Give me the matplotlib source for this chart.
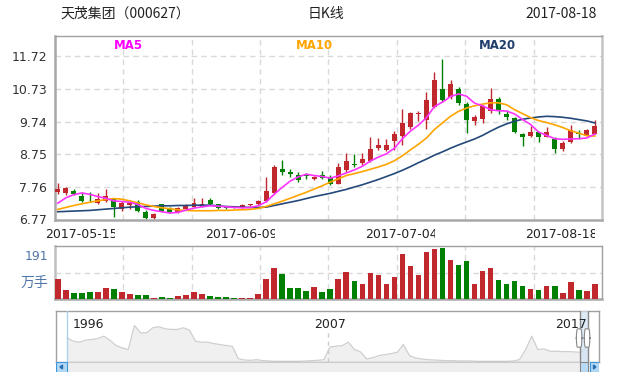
import numpy as np
import matplotlib
matplotlib.use("Agg")
import matplotlib.pyplot as plt
from matplotlib.patches import Rectangle, Polygon, FancyBboxPatch
from matplotlib.transforms import Bbox, blended_transform_factory

plt.rcParams["font.family"] = ["DejaVu Sans", "Noto Sans CJK SC"]

# daily K-line, 天茂集团 000627
opens = [7.59, 7.56, 7.64, 7.48, 7.34, 7.26, 7.34, 7.38, 7.08, 7.21,
         7.29, 7.00, 6.82, 7.23, 7.07, 6.99, 7.07, 7.15, 7.15, 7.36,
         7.23, 7.15, 7.13, 7.12, 7.19, 7.22, 7.33, 7.56, 8.30, 8.21,
         8.11, 8.14, 7.98, 8.11, 8.06, 7.84, 8.27, 8.45, 8.49, 8.54,
         8.94, 8.87, 9.15, 9.30, 9.58, 9.96, 9.78, 10.18, 10.72, 10.49,
         10.72, 10.26, 9.76, 9.83, 10.06, 10.42, 9.98, 9.86, 9.36, 9.30,
         9.41, 9.28, 9.22, 8.90, 9.12, 9.40, 9.31, 9.36]
closes = [7.69, 7.72, 7.54, 7.34, 7.32, 7.39, 7.48, 7.13, 7.27, 7.26,
          7.02, 6.80, 6.94, 7.03, 7.00, 7.11, 7.20, 7.27, 7.25, 7.23,
          7.10, 7.10, 7.11, 7.20, 7.23, 7.34, 7.63, 8.37, 8.20, 8.14,
          7.96, 8.09, 8.07, 8.04, 7.84, 8.37, 8.54, 8.41, 8.59, 8.90,
          9.02, 9.02, 9.36, 9.70, 10.00, 10.01, 10.39, 10.99, 10.41, 10.89,
          10.29, 9.80, 9.88, 10.20, 10.42, 10.06, 9.88, 9.43, 9.28, 9.43,
          9.26, 9.41, 8.90, 9.09, 9.48, 9.35, 9.48, 9.60]
highs = [7.86, 7.74, 7.69, 7.59, 7.61, 7.58, 7.68, 7.41, 7.34, 7.31,
         7.36, 7.05, 6.97, 7.25, 7.13, 7.13, 7.23, 7.41, 7.43, 7.41,
         7.25, 7.18, 7.14, 7.22, 7.25, 7.36, 8.06, 8.42, 8.57, 8.29,
         8.21, 8.19, 8.10, 8.24, 8.11, 8.49, 8.77, 8.74, 8.77, 9.27,
         9.25, 9.22, 9.46, 10.13, 10.03, 10.06, 10.64, 11.24, 11.65, 11.01,
         10.79, 10.34, 9.93, 10.23, 10.77, 10.49, 10.08, 9.88, 9.38, 9.60,
         9.43, 9.58, 9.28, 9.14, 9.63, 9.48, 9.50, 9.80]
lows = [7.53, 7.52, 7.51, 7.29, 7.29, 7.22, 7.30, 6.85, 7.01, 7.09,
        7.00, 6.77, 6.77, 7.00, 6.96, 6.97, 7.05, 7.14, 7.14, 7.20,
        7.08, 7.08, 7.10, 7.11, 7.17, 7.20, 7.31, 7.55, 8.12, 8.06,
        7.91, 7.98, 7.96, 8.01, 7.81, 7.83, 8.21, 8.37, 8.42, 8.52,
        8.87, 8.84, 8.89, 9.02, 9.50, 9.76, 9.51, 10.16, 10.34, 10.44,
        10.23, 9.38, 9.65, 9.70, 10.01, 9.98, 9.80, 9.40, 9.00, 9.28,
        9.13, 9.26, 8.80, 8.85, 9.09, 9.20, 9.29, 9.35]
# volume, 万手
volumes = [72, 32, 22, 22, 25, 25, 40, 36, 25, 18,
           14, 14, 4, 7, 4, 11, 14, 25, 19, 11,
           7, 7, 4, 4, 4, 18, 72, 112, 90, 40,
           40, 29, 43, 26, 36, 72, 97, 65, 54, 94,
           86, 54, 79, 162, 119, 86, 169, 180, 184, 140,
           122, 137, 54, 101, 112, 68, 54, 65, 47, 36,
           32, 47, 47, 22, 61, 32, 29, 54]
ma5 = [7.26, 7.42, 7.52, 7.57, 7.53, 7.46, 7.41, 7.33, 7.31, 7.29,
       7.22, 7.10, 7.04, 7.00, 6.96, 6.98, 7.05, 7.11, 7.15, 7.18,
       7.17, 7.15, 7.13, 7.12, 7.13, 7.18, 7.30, 7.53, 7.74, 7.93,
       8.06, 8.14, 8.10, 8.07, 8.02, 8.09, 8.18, 8.27, 8.38, 8.54,
       8.66, 8.76, 8.93, 9.22, 9.45, 9.63, 9.86, 10.20, 10.33, 10.50,
       10.58, 10.51, 10.30, 10.22, 10.10, 10.07, 10.06, 9.97, 9.80, 9.65,
       9.42, 9.32, 9.22, 9.20, 9.21, 9.22, 9.24, 9.36]
ma10 = [7.07, 7.13, 7.19, 7.24, 7.29, 7.33, 7.37, 7.40, 7.38, 7.33,
        7.27, 7.21, 7.16, 7.12, 7.09, 7.06, 7.04, 7.03, 7.03, 7.03,
        7.04, 7.04, 7.05, 7.06, 7.07, 7.10, 7.16, 7.24, 7.32, 7.41,
        7.50, 7.59, 7.69, 7.79, 7.90, 8.00, 8.10, 8.16, 8.22, 8.29,
        8.36, 8.44, 8.55, 8.70, 8.88, 9.05, 9.24, 9.50, 9.70, 9.90,
        10.05, 10.15, 10.22, 10.27, 10.31, 10.31, 10.25, 10.10, 9.98, 9.86,
        9.77, 9.71, 9.64, 9.56, 9.46, 9.39, 9.31, 9.30]
ma20 = [7.00, 7.01, 7.02, 7.03, 7.04, 7.06, 7.08, 7.10, 7.12, 7.14,
        7.15, 7.16, 7.17, 7.18, 7.18, 7.19, 7.19, 7.20, 7.20, 7.20,
        7.18, 7.16, 7.15, 7.14, 7.13, 7.13, 7.14, 7.19, 7.24, 7.29,
        7.34, 7.40, 7.46, 7.51, 7.56, 7.62, 7.68, 7.75, 7.82, 7.90,
        7.98, 8.07, 8.16, 8.26, 8.37, 8.49, 8.60, 8.72, 8.82, 8.93,
        9.03, 9.12, 9.21, 9.32, 9.45, 9.57, 9.67, 9.75, 9.81, 9.85,
        9.88, 9.90, 9.89, 9.87, 9.84, 9.80, 9.76, 9.70]
price_ticks = [6.77, 7.76, 8.75, 9.74, 10.73, 11.72]
date_labels = ["2017-05-15", "2017-06-09", "2017-07-04", "2017-08-18"]
vol_max_label = "191"
# navigator overview (long history, sampled evenly)
nav_close = [21.6, 18.6, 17.7, 19.5, 20.1, 21.0, 23.1, 19.5, 14.7, 12.6,
             11.1, 32.7, 26.1, 26.1, 30.6, 31.5, 29.7, 29.1, 29.1, 30.6,
             28.5, 18.6, 17.7, 17.7, 16.5, 15.6, 14.7, 14.1, 3.0, 1.8,
             1.5, 2.1, 1.2, 0.9, 0.6, 0.6, 0.6, 0.6, 0.6, 0.9,
             1.2, 1.5, 2.1, 13.5, 14.1, 14.7, 17.7, 11.1, 9.0, 2.7,
             3.9, 5.7, 6.6, 7.5, 8.7, 15.6, 5.7, 3.6, 2.7, 2.1,
             1.8, 1.5, 1.2, 1.2, 0.9, 0.9, 0.9, 0.6, 0.6, 0.6,
             0.6, 0.6, 0.6, 0.9, 2.1, 11.1, 23.1, 11.1, 11.7, 9.6,
             9.6, 9.3, 9.3, 9.0, 8.7, 12.6]
nav_years = ["1996", "2007", "2017"]

UP, DOWN = "#c1282e", "#008000"
GRID = dict(color="#d9d9d9", lw=1, ls=(0, (4, 3)), zorder=1)

W, H = 639, 376
fig = plt.figure(figsize=(W / 100, H / 100), dpi=100, facecolor="white")


def add_px_axes(x0, y0, x1, y1):
    return fig.add_axes([x0 / W, 1 - y1 / H, (x1 - x0) / W, (y1 - y0) / H])


def style_spines(a, left, bottom, top, right):
    for side, (col, lw) in zip(["left", "bottom", "top", "right"], [left, bottom, top, right]):
        a.spines[side].set_color(col)
        a.spines[side].set_linewidth(lw)


# header
fig.text(60 / W, 1 - 14 / H, "天茂集团（000627）", fontsize=10, color="#222",
         family=["Noto Sans CJK SC"], va="center", ha="left")
fig.text(326 / W, 1 - 14 / H, "日K线", fontsize=10, color="#222",
         family=["Noto Sans CJK SC"], va="center", ha="center")
fig.text(597 / W, 1 - 14 / H, "2017-08-18", fontsize=10, color="#222",
         family=["Noto Sans CJK SC"], va="center", ha="right")

x = np.arange(len(closes))
o = np.array(opens)
c = np.array(closes)
colors = np.where(c >= o, UP, DOWN)
xmin, xmax = -0.34, 67.9

# price panel
ax = add_px_axes(55, 36, 602, 220)
ax.vlines(x, lows, highs, colors=colors, lw=1, zorder=2)
ax.bar(x, np.maximum(np.abs(c - o), 0.015), bottom=np.minimum(o, c),
       width=0.62, color=colors, lw=0, zorder=3)
ax.plot(x, ma20, color="#24497a", lw=1.2, zorder=4)
ax.plot(x, ma10, color="#ffa500", lw=1.2, zorder=4)
ax.plot(x, ma5, color="#ff33ff", lw=1.2, zorder=4)
ax.set_xlim(xmin, xmax)
ax.set_ylim(6.749, 12.34)
for v in price_ticks[1:]:
    ax.axhline(v, **GRID)
for k in range(1, 8):
    ax.axvline(xmin + k * (xmax - xmin) / 8, **GRID)
ax.set_xticks([])
ax.set_yticks(price_ticks)
ax.set_yticklabels([f"{v:.2f}" for v in price_ticks])
ax.tick_params(axis="y", length=0, pad=5.5, labelsize=9, labelcolor="#333")
style_spines(ax, ("#a8a8a8", 1.8), ("#a8a8a8", 1.8), ("#a0a0a0", 1), ("#c4c4c4", 1.8))

for name, col, xc in [("MA5", "#ff00ff", 128), ("MA10", "#ffa500", 314), ("MA20", "#1f3e6e", 497)]:
    ax.text((xc - 55) / 547, 0.951, name, color=col, fontsize=8.5, fontweight="bold",
            ha="center", va="center", transform=ax.transAxes)

# date labels sit in fixed 70px slots and get cut at the slot edge
for k, lab in enumerate(date_labels):
    x0 = 45 + 160 * k
    t = fig.text(x0 / W, 1 - 235 / H, lab, fontsize=9, color="#222", ha="left", va="center")
    t.set_clip_box(Bbox([[x0, 0], [x0 + 70, H]]))
    t.set_clip_on(True)

# volume panel
axv = add_px_axes(55, 246, 602, 299)
axv.bar(x, volumes, width=0.7, color=colors, lw=0, zorder=3)
axv.set_xlim(xmin, xmax)
axv.set_ylim(0, 191)
axv.axhline(191 / 2, **GRID)
for k in range(1, 8):
    axv.axvline(xmin + k * (xmax - xmin) / 8, **GRID)
axv.set_xticks([])
axv.set_yticks([])
style_spines(axv, ("#c0c0c0", 1.8), ("#a8a8a8", 1.8), ("#a0a0a0", 1), ("#a0a0a0", 1))
axv.text(-0.013, 0.80, vol_max_label, transform=axv.transAxes, ha="right", va="center",
         fontsize=9, color="#4f76a6")
axv.text(-0.013, 0.30, "万手", transform=axv.transAxes, ha="right", va="center",
         fontsize=10, color="#4f76a6", family=["Noto Sans CJK SC"])

# navigator
axn = add_px_axes(56, 311, 599, 362)
xn = np.arange(len(nav_close))
axn.fill_between(xn, nav_close, 0, color="#f0f0f0", lw=0, zorder=1)
axn.plot(xn, nav_close, color="#cfcfcf", lw=0.9, zorder=2)
axn.set_xlim(-1.83, 87.0)
axn.set_ylim(0, 45.6)
axn.set_xticks([])
axn.set_yticks([])
for s in axn.spines.values():
    s.set_color("#a0a0a0")
    s.set_linewidth(1)
axn.axvline(-0.1, color="#a9d2f2", lw=1, zorder=3)
axn.axvline(42.7, ymax=0.6, color="#cccccc", lw=1, ls=(0, (3, 3)), zorder=2)
for lab, xp in zip(nav_years, [3.4, 43.0, 82.4]):
    axn.text(xp, 0.73, lab, transform=blended_transform_factory(axn.transData, axn.transAxes),
             ha="center", va="center", fontsize=9, color="#222", zorder=5)
axn.axvspan(83.9, 85.2, color="#cfe3f5", alpha=0.7, lw=0, zorder=3)
axn.axvline(83.9, color="#888888", lw=1, zorder=4)
axn.axvline(85.2, color="#888888", lw=1, zorder=4)
bt = blended_transform_factory(axn.transData, axn.transAxes)
for hx in (83.3, 84.6):
    axn.add_patch(FancyBboxPatch((hx, 0.29), 0.9, 0.36, boxstyle="round,pad=0,rounding_size=0.2",
                                 transform=bt, facecolor="white", edgecolor="#888888",
                                 lw=0.8, zorder=6, clip_on=False))

# scrollbar under the navigator
axs = add_px_axes(56, 362, 599, 372)
axs.set_xlim(0, 543)
axs.set_ylim(0, 1)
axs.axis("off")
axs.add_patch(Rectangle((0, 0), 543, 1, facecolor="#eeeeee", edgecolor="#cccccc", lw=0.8))
axs.add_patch(Rectangle((524, 0), 8, 1, facecolor="#b9dbf6", edgecolor="#888888", lw=0.8))
axs.add_patch(Rectangle((0, 0), 11, 1, facecolor="#b3d8f5", edgecolor="#3d97dc", lw=0.8))
axs.add_patch(Rectangle((534, 0), 9, 1, facecolor="#b3d8f5", edgecolor="#3d97dc", lw=0.8))
axs.add_patch(Polygon([[6.5, 0.3], [6.5, 0.7], [4, 0.5]], color="#2a6fb0"))
axs.add_patch(Polygon([[537.5, 0.3], [537.5, 0.7], [540, 0.5]], color="#2a6fb0"))

fig.savefig("out.png", dpi=100, facecolor="white")
